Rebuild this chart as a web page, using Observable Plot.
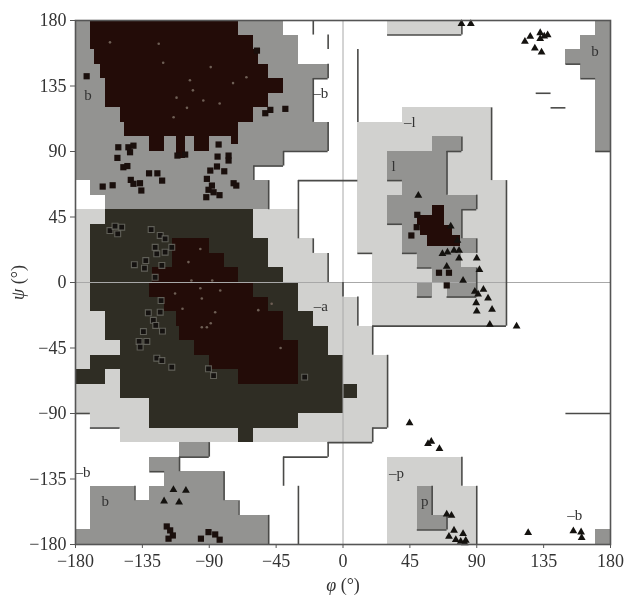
<!DOCTYPE html>
<html>
<head>
<meta charset="utf-8">
<script src="https://cdn.jsdelivr.net/npm/d3@7"></script>
<script src="https://cdn.jsdelivr.net/npm/@observablehq/plot@0.6"></script>
<style>
html,body{margin:0;padding:0;background:#fff}
#chart svg{display:block;filter:blur(0.45px)}
</style>
</head>
<body>
<div id="chart"></div>
<script>
// Each region row: [psi top, psi bottom, phi left, phi right]
const generousRows = [
  [50,40,-180,-160],[40,-20,-180,-170],[-20,-40,-180,-160],[-40,-50,-180,-150],[-50,-60,-180,-170],
  [-60,-70,-160,-150],[-70,-80,-180,-150],[-80,-90,-180,-130],[-90,-100,-170,-130],[-100,-110,-150,0],
  [-90,-100,-30,0],[50,30,-60,-30],[30,20,-50,-20],[20,10,-50,-10],[10,0,-40,-10],[0,-20,-30,0],
  [-20,-30,-20,0],[-30,-50,-10,0],[-10,-30,0,10],[-30,-50,0,20],[-50,-100,0,30],[-100,-110,0,20],
  [120,110,40,100],[110,70,10,100],[70,20,10,110],[20,-30,20,110],[180,170,30,80],
  [-120,-140,30,80],[-140,-180,30,90]
];
const allowedRows = [
  [180,170,-180,-40],[170,150,-180,-30],[150,140,-180,-10],[140,110,-180,-20],[110,90,-180,-10],
  [90,80,-180,-40],[80,70,-180,-60],[70,60,-170,-50],[60,50,-160,-50],
  [-110,-120,-110,-90],[-120,-130,-130,-110],[-130,-140,-120,-80],[-140,-150,-170,-140],[-140,-150,-130,-80],
  [-150,-160,-170,-70],[-160,-170,-170,-50],[-170,-180,-180,-50],
  [100,90,60,80],[90,70,30,70],[70,60,40,70],[60,50,30,90],[50,40,30,80],[40,30,40,80],[30,20,40,90],
  [20,10,50,80],[10,0,60,90],[0,-10,50,60],[0,-10,70,90],
  [-140,-160,50,60],[-160,-170,50,70],
  [180,170,170,180],[170,160,160,180],[160,150,150,180],[150,140,160,180],[140,90,170,180],[-170,-180,170,180]
];
const alphaAdditionalRows = [
  [50,40,-160,-60],[40,30,-170,-60],[30,10,-170,-50],[10,0,-170,-40],[0,-20,-170,-30],[-20,-30,-160,-20],
  [-30,-40,-160,-10],[-40,-50,-150,-10],[-50,-60,-170,0],[-60,-70,-180,-160],[-60,-70,-150,0],
  [-70,-80,-150,0],[-70,-80,0,10],[-80,-90,-130,0],[-90,-100,-130,-30],[-100,-110,-70,-60]
];
const coreRows = [
  [180,170,-170,-70],[170,160,-170,-60],[160,150,-167,-57],[150,140,-163,-50],[140,130,-160,-40],
  [130,120,-160,-50],[120,110,-150,-60],[110,100,-147,-70],[100,90,-130,-120],[100,85,-112,-106],
  [100,90,-100,-90],[100,95,-75,-70],
  [30,20,-115,-90],[20,10,-115,-80],[10,0,-128,-70],[0,-10,-130,-60],[-10,-20,-120,-50],
  [-20,-30,-112,-40],[-30,-40,-110,-40],[-40,-50,-100,-30],[-50,-60,-90,-30],[-60,-70,-70,-30],
  [53,46,60,68],[46,39,50,68],[39,32,52,74],[32,25,57,79]
];
// Region edge lines
const edgeV = [ // [phi, psi from, psi to]
  [-20,180,170],[-10,170,160],[-20,140,110],[-10,150,140],[-10,110,90],[-40,90,80],[-60,80,70],[-50,70,50],
  [-30,70,30],[-20,30,20],[-10,20,0],[0,0,-10],[10,160,110],[10,-10,-30],[20,-30,-50],[30,-50,-100],[20,-100,-110],
  [100,120,70],[110,70,-30],[70,90,60],[80,100,90],[90,60,50],[80,50,30],[90,30,20],[90,10,-10],[80,180,170],
  [-140,-140,-150],[-80,-130,-150],[-70,-150,-160],[-50,-160,-180],[-30,-140,-180],[-40,-120,-140],[-10,-110,-120],
  [-90,-110,-120],[-110,-120,-130],[80,-120,-140],[90,-140,-180],[60,-140,-160],[70,-160,-170]
];
const edgeH = [ // [psi, phi from, phi to]
  [170,30,80],[150,150,160],[140,160,170],[90,170,180],[130,130,140],[120,140,150],[-90,150,180],
  [140,-20,-10],[90,-40,-10],[80,-60,-40],[70,-30,10],
  [90,70,80],[70,30,40],[50,80,90],[40,30,40],[20,10,20],[20,40,50],[10,50,60],[-10,50,60],[-10,70,90],[-30,20,110],
  [-100,20,30],[-110,-10,20],[-120,-40,-10],[-90,-180,-170],[-100,-170,-150],[-120,-110,-90],[-130,-130,-120],[-170,50,70]
];
// Residues: [phi, psi]
const glycinePhi = [122.4,126,132.7,135.4,132.7,137.7,129.1,133.6,79.7,86,50.7,72.5,77,78.1,70.3,66.9,74.7,78.1,90,91.8,69.8,80.8,94.5,88.7,90.9,97.6,89.6,100.3,90,98.8,116.8,44.8,57.2,59.4,64.9,69.8,73,74.7,80.8,71.3,75.9,79.2,82.6,81.9,124.6,155,160.2,160.6,-114.1,-105.7,-120.4,-110.3];
const glycinePsi = [165.5,169,171.5,169.2,167.4,170,161,158.2,177.7,177.7,59.8,38.7,28.8,22,20.8,19.7,22,16.7,16.7,8.7,11,1.4,-4.8,-6.2,-8,-10.8,-14,-18.5,-19.7,-28.8,-30,-96.6,-110.8,-109.2,-114.2,-159.3,-160,-170.3,-172.6,-174.5,-176.7,-177.9,-177.2,-179,-171.9,-170.8,-171.5,-175.3,-142.4,-142.9,-150.2,-150.9];
const residuePhi = [-172.5,-38.8,-52.3,-48.9,-57.9,-151.2,-144.4,-141,-143.3,-151.8,-147.8,-145.1,-161.7,-155,-142.8,-141,-136.6,-135.7,-130.5,-124.9,-121.7,-83.7,-84.4,-106.2,-111.4,-77,-77,-79.9,-84.8,-89.3,-91.6,-88.2,-90.5,-87.1,-92,-83.1,-73.6,-71.8,-118.6,-116.3,-114.5,-117.4,-95.6,-90.5,-86,-83,50,46,49.6,64.6,71.3,69.8];
const residuePsi = [141.7,119.3,116.3,118.6,159.3,92.9,92.9,94,89.5,85.6,79.2,80,65.9,66.8,70.5,67.8,68.2,63.2,75,75,70,94.8,86.5,87.9,87.2,87.2,83.8,76.4,79.7,76.9,71.2,66.6,63.7,62,58.6,60,68.2,66.6,-167.6,-170.3,-173.8,-176,-176,-171.5,-173.1,-176.7,46.5,32.3,38,6.7,6.7,-2];
const haloPhi = [-156.8,-153.4,-148.9,-151.6,-129.1,-123,-119.7,-115.2,-126.4,-125.3,-119.7,-132.7,-140.4,-133.6,-121.9,-126.4,-122.4,-131,-123,-127.6,-126,-121.5,-134.3,-137.2,-132,-136.5,-125.3,-121.9,-115.2,-87.1,-90.5,-25.8];
const haloPsi = [35.7,38.7,38,33.4,36.4,32.3,30,24.2,24.2,19.7,20.8,15.1,12.2,9.8,11.7,3.6,-12.4,-20.8,-20.4,-26,-29.5,-33.4,-33.7,-40.5,-40.5,-44.4,-52,-53.6,-58.2,-63.9,-59.3,-65];
const speckPhi = [-156.8,-124,-121,-103,-112,-94,-83,-105,-101,-74,-65,-89,-114,-96,-104,-102,-96,-95,-113,-108,-95,-89,-88,-82.6,-86,-91.6,-57,-48,-42];
const speckPsi = [165,164,151,139,127,125,123,120,132,137,141,148,113.5,23,14,1.4,-4,-11,-7.6,-18,-30.7,-28,1.4,-5.5,-20.4,-30.7,-19,-14.6,-45];
const regionLabels = ["b","–b","–l","l","–a","–b","b","–p","p","–b","b"];
const labelPhi = [-171.6,-15,45,34,-15,-175,-160,36,55,156,169.5];
const labelPsi = [128.4,130,110,80,-16,-130,-150,-131,-150,-160,159];
const axisTicks = [-180,-135,-90,-45,0,45,90,135,180];

const serif = "'Liberation Serif', serif";
const band = (rows, fill) => Plot.rect(rows, {
  x1: d => d[2], x2: d => d[3], y1: d => d[1], y2: d => d[0], fill, shapeRendering: "crispEdges"
});
const zip = (a, b) => a.map((v, i) => [v, b[i]]);
const fmt = d => d < 0 ? "\u2212" + (-d) : String(d);

const chart = Plot.plot({
  width: 625, height: 595,
  marginLeft: 75, marginRight: 15, marginTop: 20, marginBottom: 51,
  style: {background: "#fff", fontFamily: serif},
  x: {domain: [-180, 180]},
  y: {domain: [-180, 180]},
  marks: [
    band(generousRows, "#d1d1cf"),
    band(allowedRows, "#939391"),
    band(alphaAdditionalRows, "#2f2d24"),
    band(coreRows, "#230c08"),
    Plot.ruleY([0], {stroke: "#a8a8a8", strokeWidth: 1}),
    Plot.ruleX([0], {stroke: "#a8a8a8", strokeWidth: 1}),
    Plot.ruleX(edgeV, {x: d => d[0], y1: d => d[1], y2: d => d[2], stroke: "#4a4a48", strokeWidth: 1.6}),
    Plot.ruleY(edgeH, {y: d => d[0], x1: d => d[1], x2: d => d[2], stroke: "#4a4a48", strokeWidth: 1.6}),
    Plot.dot(zip(speckPhi, speckPsi), {x: d => d[0], y: d => d[1], r: 1.3, fill: "#6e5f55"}),
    Plot.dot(zip(haloPhi, haloPsi), {x: d => d[0], y: d => d[1], symbol: "square", r: 3.3, fill: "#151210", stroke: "#7a7a72", strokeWidth: 1.1, strokeOpacity: 0.7}),
    Plot.dot(zip(residuePhi, residuePsi), {x: d => d[0], y: d => d[1], symbol: "square", r: 3.5, fill: "#1a0f0c"}),
    Plot.dot(zip(glycinePhi, glycinePsi), {x: d => d[0], y: d => d[1], symbol: "triangle", r: 2.9, fill: "#14120f"}),
    Plot.text(regionLabels, {x: (d, i) => labelPhi[i], y: (d, i) => labelPsi[i], text: d => d, fontSize: 15, fontFamily: serif, fill: "#333"}),
    Plot.frame({stroke: "#555", strokeWidth: 1.6}),
    Plot.axisX(axisTicks, {tickSize: 4, tickPadding: 6, fontSize: 18, stroke: "#555", fill: "#333", tickFormat: fmt, label: "φ (°)", labelAnchor: "center", labelArrow: "none", labelOffset: 46, fontFamily: serif}),
    Plot.axisY(axisTicks, {tickSize: 5, tickPadding: 4, fontSize: 18, stroke: "#555", fill: "#333", tickFormat: fmt, label: "ψ (°)", labelAnchor: "center", labelArrow: "none", labelOffset: 64, fontFamily: serif})
  ]
});
d3.select(chart).selectAll("text").each(function () {
  const t = this.textContent;
  if (t === "φ (°)" || t === "ψ (°)") {
    const el = d3.select(this).style("font-size", "18px");
    el.selectAll("*").remove();
    el.text(null);
    el.append("tspan").style("font-style", "italic").text(t[0]);
    el.append("tspan").text(" (°)");
  }
});
document.getElementById("chart").append(chart);
</script>
</body>
</html>
